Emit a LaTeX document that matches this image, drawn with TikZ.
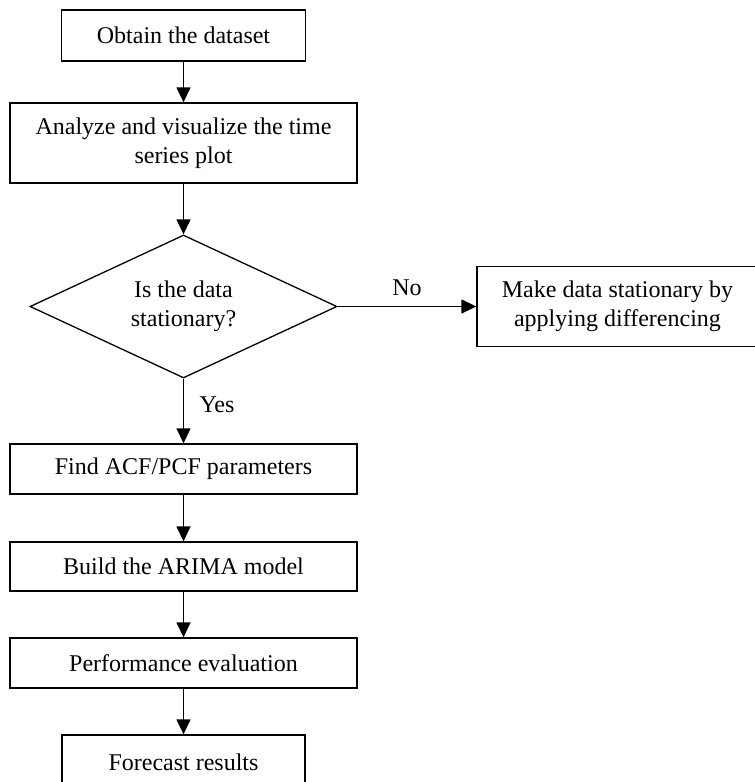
\documentclass[tikz,border=0pt]{standalone}
\usepackage{fontspec}
\setmainfont{Liberation Serif}
\usetikzlibrary{shapes.geometric,arrows.meta}
\begin{document}
\begin{tikzpicture}[x=1pt,y=-1pt,
  every node/.style={font=\fontsize{24}{29}\selectfont},
  box/.style={draw, line width=1.3pt, rectangle, inner sep=0pt, align=center},
  decision/.style={draw, line width=1.3pt, diamond, inner sep=0pt, align=center, aspect=2.147},
  flow/.style={line width=1.3pt, -{Triangle[length=15pt,width=14pt]}},
  lbl/.style={inner sep=0pt}
]
\useasboundingbox (0,0) rectangle (755,782);
\clip (0,0) rectangle (755,782);
\node[box, minimum width=244pt, minimum height=51pt] (obtain) at (183.5,35.5) {Obtain the dataset};
\node[box, minimum width=347pt, minimum height=80pt] (analyze) at (183.5,143) {Analyze and visualize the time\\series plot};
\node[decision, minimum width=307pt, minimum height=143pt] (dec) at (183.5,306.5) {Is the data\\stationary?};
\node[box, minimum width=281pt, minimum height=80pt] (make) at (617.5,306.5) {Make data stationary by\\applying differencing};
\node[box, minimum width=347pt, minimum height=50pt] (find) at (183.5,469) {Find ACF/PCF parameters};
\node[box, minimum width=347pt, minimum height=49pt] (build) at (183.5,566.5) {Build the ARIMA model};
\node[box, minimum width=347pt, minimum height=50pt] (perf) at (183.5,663) {Performance evaluation};
\node[box, minimum width=243pt, minimum height=54pt] (fore) at (183.5,762) {Forecast results};
\draw[flow] (obtain.south) -- (analyze.north);
\draw[flow] (analyze.south) -- (dec.north);
\draw[flow] (dec.south) -- (find.north);
\draw[flow] (dec.east) -- (make.west);
\draw[flow] (find.south) -- (build.north);
\draw[flow] (build.south) -- (perf.north);
\draw[flow] (perf.south) -- (fore.north);
\node[lbl] (yes) at (217,405) {Yes};
\node[lbl] (no) at (407,288) {No};
\end{tikzpicture}
\end{document}
